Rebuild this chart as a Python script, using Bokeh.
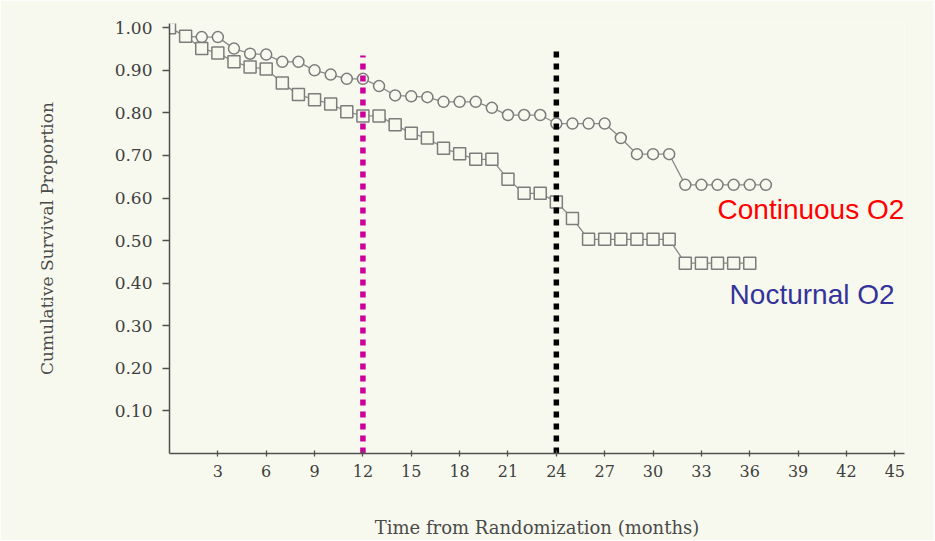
from bokeh.plotting import figure
from bokeh.models import Range1d, FixedTicker
from bokeh.core.properties import value
from bokeh.embed import file_html
from bokeh.resources import INLINE

# ---- data ----
months_cont = list(range(0, 38))
survival_cont = [1.00, 0.98, 0.978, 0.978, 0.951, 0.939, 0.937, 0.920, 0.920, 0.900,
                 0.890, 0.880, 0.880, 0.863, 0.841, 0.839, 0.837, 0.826, 0.826, 0.826,
                 0.812, 0.795, 0.795, 0.795, 0.775, 0.775, 0.775, 0.775, 0.741, 0.703,
                 0.703, 0.703, 0.631, 0.631, 0.631, 0.631, 0.631, 0.631]

months_noct = list(range(0, 37))
survival_noct = [1.00, 0.98, 0.951, 0.941, 0.920, 0.908, 0.903, 0.870, 0.843, 0.831,
                 0.821, 0.803, 0.793, 0.793, 0.772, 0.752, 0.741, 0.717, 0.704, 0.691,
                 0.691, 0.644, 0.611, 0.611, 0.591, 0.552, 0.503, 0.503, 0.503, 0.503,
                 0.503, 0.503, 0.447, 0.447, 0.447, 0.447, 0.447]

x_ticks = [3, 6, 9, 12, 15, 18, 21, 24, 27, 30, 33, 36, 39, 42, 45]
y_ticks = [0.1, 0.2, 0.3, 0.4, 0.5, 0.6, 0.7, 0.8, 0.9, 1.0]
y_tick_labels = ["0.10", "0.20", "0.30", "0.40", "0.50", "0.60", "0.70", "0.80", "0.90", "1.00"]

ref_months = [12, 24]
ref_tops = [0.935, 0.952]
ref_bottom = 0.0
ref_colors = ["#cc0099", "#000000"]

series_names = ["Continuous O2", "Nocturnal O2"]
series_label_x = [34.0, 34.75]
series_label_y = [0.574, 0.373]
series_label_colors = ["#ff0000", "#333399"]

BG = "#f8f9ee"
INK = "#505050"
SERIF = "DejaVu Serif"

p = figure(width=934, height=540, output_backend="svg", toolbar_location=None,
           x_range=Range1d(0, 45.6), y_range=Range1d(0, 1.01),
           min_border_left=169, min_border_right=30, min_border_top=23, min_border_bottom=81,
           background_fill_color=BG, border_fill_color=BG)
p.outline_line_color = None
p.grid.visible = False

# curves
p.line(months_cont, survival_cont, line_color="#8a8a8a", line_width=1.3)
p.line(months_noct, survival_noct, line_color="#8a8a8a", line_width=1.3)
p.scatter(months_cont, survival_cont, marker="circle", size=11,
          line_color="#7c7c7c", line_width=1.5, fill_color=BG)
p.scatter(months_noct, survival_noct, marker="square", size=12,
          line_color="#7c7c7c", line_width=1.5, fill_color=BG)

# reference dotted lines at 12 and 24 months
for m, top, c in zip(ref_months, ref_tops, ref_colors):
    p.line([m, m], [ref_bottom, top], line_color=c, line_width=5.5,
           line_dash="6 6", line_cap="butt")

# series labels
for name, lx, ly, c in zip(series_names, series_label_x, series_label_y, series_label_colors):
    p.text(x=[lx], y=[ly], text=[name], text_color=c, text_font=value("Liberation Sans"),
           text_font_size="28px", text_baseline="middle", text_align="left")

for ax in (p.xaxis[0], p.yaxis[0]):
    ax.axis_line_color = INK
    ax.axis_line_width = 1.5
    ax.major_tick_line_color = INK
    ax.major_tick_line_width = 1.3
    ax.minor_tick_line_color = None
    ax.major_label_text_font = SERIF
    ax.major_label_text_font_size = "16px"
    ax.major_label_text_color = "#3f3f3f"
    ax.axis_label_text_font = SERIF
    ax.axis_label_text_font_style = "normal"
    ax.axis_label_text_color = "#4a4a4a"

xa = p.xaxis[0]
xa.ticker = FixedTicker(ticks=x_ticks)
xa.major_tick_in = 3
xa.major_tick_out = 3
xa.major_label_standoff = 8
xa.axis_label = "Time from Randomization (months)"
xa.axis_label_text_font_size = "18px"
xa.axis_label_standoff = 37

ya = p.yaxis[0]
ya.ticker = FixedTicker(ticks=y_ticks)
ya.major_label_overrides = {t: l for t, l in zip(y_ticks, y_tick_labels)}
ya.major_label_text_font_size = "17px"
ya.major_tick_in = 0
ya.major_tick_out = 7
ya.major_label_standoff = 10
ya.axis_label = "Cumulative Survival Proportion"
ya.axis_label_text_font_size = "17px"
ya.axis_label_standoff = 55

open("out.html", "w").write(file_html(p, INLINE))
